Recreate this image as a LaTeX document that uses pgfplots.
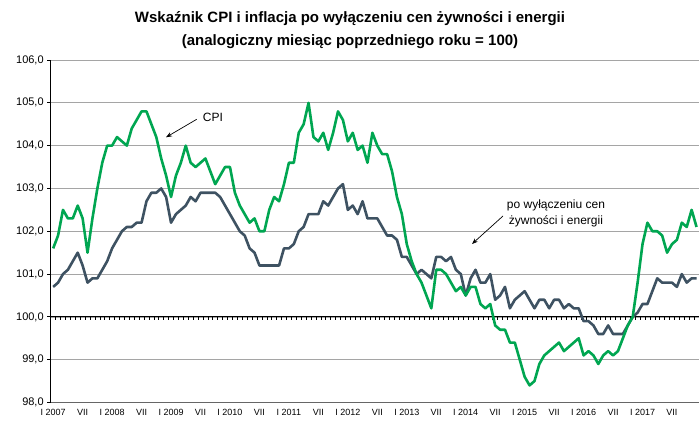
\documentclass[border=0pt]{standalone}
\usepackage{fontspec}
\setmainfont{Liberation Sans}
\usepackage{pgfplots}
\pgfplotsset{compat=1.18}
\usepackage{pgfplotstable}
\usetikzlibrary{arrows.meta}
\definecolor{cpigreen}{RGB}{0,166,81}
\definecolor{coreslate}{RGB}{62,82,98}
\definecolor{gridgray}{RGB}{165,165,165}

\pgfplotstableread{
m cpi core
0 101.6 100.7
1 101.9 100.8
2 102.5 101.0
3 102.3 101.1
4 102.3 101.3
5 102.6 101.5
6 102.3 101.2
7 101.5 100.8
8 102.3 100.9
9 103.0 100.9
10 103.6 101.1
11 104.0 101.3
12 104.0 101.6
13 104.2 101.8
14 104.1 102.0
15 104.0 102.1
16 104.4 102.1
17 104.6 102.2
18 104.8 102.2
19 104.8 102.7
20 104.5 102.9
21 104.2 102.9
22 103.7 103.0
23 103.3 102.8
24 102.8 102.2
25 103.3 102.4
26 103.6 102.5
27 104.0 102.6
28 103.6 102.8
29 103.5 102.7
30 103.6 102.9
31 103.7 102.9
32 103.4 102.9
33 103.1 102.9
34 103.3 102.8
35 103.5 102.6
36 103.5 102.4
37 102.9 102.2
38 102.6 102.0
39 102.4 101.9
40 102.2 101.6
41 102.3 101.5
42 102.0 101.2
43 102.0 101.2
44 102.5 101.2
45 102.8 101.2
46 102.7 101.2
47 103.1 101.6
48 103.6 101.6
49 103.6 101.7
50 104.3 102.0
51 104.5 102.1
52 105.0 102.4
53 104.2 102.4
54 104.1 102.4
55 104.3 102.7
56 103.9 102.6
57 104.3 102.8
58 104.8 103.0
59 104.6 103.1
60 104.1 102.5
61 104.3 102.6
62 103.9 102.4
63 104.0 102.7
64 103.6 102.3
65 104.3 102.3
66 104.0 102.3
67 103.8 102.1
68 103.8 101.9
69 103.4 101.9
70 102.8 101.8
71 102.4 101.4
72 101.7 101.4
73 101.3 101.2
74 101.0 101.0
75 100.8 101.1
76 100.5 101.0
77 100.2 100.9
78 101.1 101.4
79 101.1 101.4
80 101.0 101.3
81 100.8 101.4
82 100.6 101.1
83 100.7 101.0
84 100.5 100.5
85 100.7 100.9
86 100.7 101.1
87 100.3 100.8
88 100.2 100.8
89 100.3 101.0
90 99.8 100.4
91 99.7 100.5
92 99.7 100.7
93 99.4 100.2
94 99.4 100.4
95 99.0 100.5
96 98.6 100.6
97 98.4 100.4
98 98.5 100.2
99 98.9 100.4
100 99.1 100.4
101 99.2 100.2
102 99.3 100.4
103 99.4 100.4
104 99.2 100.2
105 99.3 100.3
106 99.4 100.2
107 99.5 100.2
108 99.1 99.9
109 99.2 99.9
110 99.1 99.8
111 98.9 99.6
112 99.1 99.6
113 99.2 99.8
114 99.1 99.6
115 99.2 99.6
116 99.5 99.6
117 99.8 99.8
118 100.0 100.0
119 100.8 100.1
120 101.7 100.3
121 102.2 100.3
122 102.0 100.6
123 102.0 100.9
124 101.9 100.8
125 101.5 100.8
126 101.7 100.8
127 101.8 100.7
128 102.2 101.0
129 102.1 100.8
130 102.5 100.9
131 102.1 100.9
}\data

\begin{document}
\begin{tikzpicture}[x=1pt,y=1pt]
\path[use as bounding box] (0,0) rectangle (699,421);
\node[anchor=base, font=\fontsize{15}{18}\selectfont\bfseries] at (350,398) {Wskaźnik CPI i inflacja po wyłączeniu cen żywności i energii};
\node[anchor=base, font=\fontsize{15}{18}\selectfont\bfseries] at (350,375) {(analogiczny miesiąc poprzedniego roku = 100)};
\begin{axis}[
  at={(50.7pt,18.5pt)}, anchor=south west,
  scale only axis, width=648.3pt, height=342.5pt,
  xmin=-0.5, xmax=131.5, ymin=98, ymax=106,
  axis x line*=bottom, axis y line*=left,
  x axis line style={black!60, line width=0.8pt},
  y axis line style={black, line width=1pt},
  ytick={98,99,...,106},
  ymajorgrids, grid style={gridgray, line width=0.7pt},
  tick align=outside,
  major tick length=3.5pt,
  xtick={0,6,...,126},
  xticklabels={I 2007,VII,I 2008,VII,I 2009,VII,I 2010,VII,I 2011,VII,I 2012,VII,I 2013,VII,I 2014,VII,I 2015,VII,I 2016,VII,I 2017,VII},
  x tick style={draw=none},
  y tick style={black, line width=0.8pt},
  /pgf/number format/assume math mode=true,
  yticklabel style={/pgf/number format/fixed, /pgf/number format/fixed zerofill, /pgf/number format/precision=1, /pgf/number format/use comma, font=\fontsize{11}{13}\selectfont},
  xticklabel style={font=\fontsize{9}{11}\selectfont},
]
\draw[black, line width=0.9pt] (axis cs:-0.5,100) -- (axis cs:131.5,100);
\pgfplotsinvokeforeach{-0.5,0.5,...,131.5}{\draw[black, line width=0.6pt] (axis cs:#1,100) -- ([yshift=-3.5pt]axis cs:#1,100);}
\addplot[coreslate, line width=2.6pt, line join=round] table[x=m, y=core] {\data};
\addplot[cpigreen, line width=2.6pt, line join=round] table[x=m, y=cpi] {\data};
\end{axis}
\draw[-{Stealth[length=6pt,width=4.5pt]}, line width=0.7pt] (196.7,301.7) -- (166,283.7);
\node[font=\fontsize{12}{14}\selectfont] at (213,304) {CPI};
\node[align=center, font=\fontsize{12}{16}\selectfont] at (556,208) {po wyłączeniu cen\\żywności i energii};
\draw[-{Stealth[length=6pt,width=4.5pt]}, line width=0.7pt] (503,205) -- (472,177);
\end{tikzpicture}
\end{document}
